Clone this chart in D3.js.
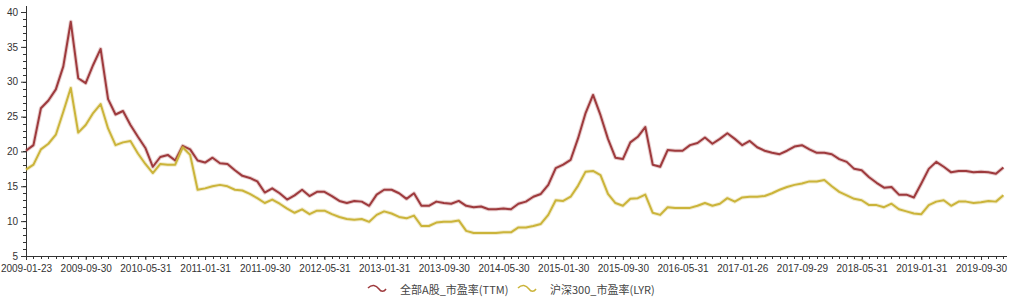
<!DOCTYPE html>
<html>
<head>
<meta charset="utf-8">
<script src="https://cdn.jsdelivr.net/npm/d3@7"></script>
<style>
  html, body { margin: 0; padding: 0; background: #fff; }
  svg { display: block; }
  text { font-family: "Liberation Sans", Arial, sans-serif; fill: #333; }
  .legend text { font-family: "Noto Sans CJK SC", "Liberation Sans", sans-serif; fill: #444; }
</style>
</head>
<body>
<svg id="chart" width="1020" height="302"></svg>
<script>
// Monthly categories (2009-01 .. 2019-12)
const categories = [
  "2009-01","2009-02","2009-03","2009-04","2009-05","2009-06","2009-07","2009-08","2009-09","2009-10","2009-11","2009-12",
  "2010-01","2010-02","2010-03","2010-04","2010-05","2010-06","2010-07","2010-08","2010-09","2010-10","2010-11","2010-12",
  "2011-01","2011-02","2011-03","2011-04","2011-05","2011-06","2011-07","2011-08","2011-09","2011-10","2011-11","2011-12",
  "2012-01","2012-02","2012-03","2012-04","2012-05","2012-06","2012-07","2012-08","2012-09","2012-10","2012-11","2012-12",
  "2013-01","2013-02","2013-03","2013-04","2013-05","2013-06","2013-07","2013-08","2013-09","2013-10","2013-11","2013-12",
  "2014-01","2014-02","2014-03","2014-04","2014-05","2014-06","2014-07","2014-08","2014-09","2014-10","2014-11","2014-12",
  "2015-01","2015-02","2015-03","2015-04","2015-05","2015-06","2015-07","2015-08","2015-09","2015-10","2015-11","2015-12",
  "2016-01","2016-02","2016-03","2016-04","2016-05","2016-06","2016-07","2016-08","2016-09","2016-10","2016-11","2016-12",
  "2017-01","2017-02","2017-03","2017-04","2017-05","2017-06","2017-07","2017-08","2017-09","2017-10","2017-11","2017-12",
  "2018-01","2018-02","2018-03","2018-04","2018-05","2018-06","2018-07","2018-08","2018-09","2018-10","2018-11","2018-12",
  "2019-01","2019-02","2019-03","2019-04","2019-05","2019-06","2019-07","2019-08","2019-09","2019-10","2019-11","2019-12"
];

// 全部A股_市盈率(TTM)
const seriesA = [
  20.1,20.9,26.2,27.3,28.9,32.2,38.6,30.5,29.8,32.4,34.7,27.5,
  25.3,25.8,23.8,22.1,20.5,17.8,19.2,19.5,18.7,20.8,20.3,18.7,
  18.4,19.1,18.3,18.2,17.3,16.5,16.2,15.7,14.1,14.7,14.0,13.1,
  13.7,14.5,13.6,14.2,14.2,13.6,12.9,12.6,12.9,12.8,12.2,13.8,
  14.5,14.5,14.0,13.2,14.0,12.2,12.2,12.8,12.6,12.5,12.9,12.2,
  12.0,12.1,11.7,11.7,11.8,11.7,12.5,12.8,13.5,13.9,15.2,17.6,
  18.1,18.8,21.9,25.5,28.1,25.2,21.8,19.1,18.9,21.3,22.1,23.5,
  18.1,17.8,20.2,20.1,20.1,20.9,21.2,22.0,21.1,21.8,22.6,21.8,
  20.9,21.5,20.6,20.1,19.8,19.6,20.1,20.7,20.9,20.3,19.8,19.8,
  19.6,18.9,18.5,17.5,17.3,16.3,15.5,14.8,14.9,13.8,13.8,13.4,
  15.4,17.5,18.5,17.8,17.0,17.2,17.2,17.0,17.1,17.0,16.8,17.7
];

// 沪深300_市盈率(LYR)
const seriesB = [
  17.4,18.1,20.3,21.1,22.4,25.7,29.1,22.7,23.8,25.5,26.8,23.3,
  20.9,21.3,21.5,19.7,18.2,16.9,18.2,18.1,18.1,20.6,19.5,14.5,
  14.7,15.0,15.2,15.0,14.5,14.4,13.9,13.3,12.6,13.1,12.5,11.8,
  11.2,11.7,11.0,11.5,11.5,11.0,10.6,10.3,10.2,10.3,9.9,10.9,
  11.4,11.1,10.6,10.4,10.8,9.3,9.3,9.8,9.9,9.9,10.1,8.6,
  8.3,8.3,8.3,8.3,8.4,8.4,9.1,9.1,9.3,9.6,10.9,13.0,
  12.9,13.5,15.1,17.1,17.2,16.6,13.9,12.6,12.2,13.2,13.3,13.8,
  11.2,10.9,12.0,11.9,11.9,11.9,12.2,12.6,12.2,12.5,13.3,12.8,
  13.4,13.5,13.5,13.6,14.0,14.5,14.9,15.2,15.4,15.7,15.7,15.9,
  15.0,14.2,13.7,13.2,13.0,12.3,12.3,12.0,12.5,11.7,11.4,11.1,
  11.0,12.3,12.8,13.0,12.2,12.8,12.8,12.6,12.7,12.9,12.8,13.7
];

const tickLabels = ["2009-01-23","2009-09-30","2010-05-31","2011-01-31","2011-09-30","2012-05-31","2013-01-31","2013-09-30","2014-05-30","2015-01-30","2015-09-30","2016-05-31","2017-01-26","2017-09-29","2018-05-31","2019-01-31","2019-09-30"];
const tickCategories = ["2009-01","2009-09","2010-05","2011-01","2011-09","2012-05","2013-01","2013-09","2014-05","2015-01","2015-09","2016-05","2017-01","2017-09","2018-05","2019-01","2019-09"];
const yTicks = [5,10,15,20,25,30,35,40];
const seriesNames = ["全部A股_市盈率(TTM)", "沪深300_市盈率(LYR)"];
const seriesColors = ["#9e3a3d", "#cbb43a"];

const svg = d3.select("#chart");
const x0 = 26, x1 = 1003.4, axisEnd = 1007;
const yTop = 12, yBottom = 256;

const x = d3.scalePoint().domain(categories).range([x0, x1]);
const y = d3.scaleLinear().domain([5, 40]).range([yBottom, yTop]);

// Y axis
const yAxisG = svg.append("g").attr("transform", `translate(${x0},0)`);
const yMinor = d3.range(5, 41, 1);
yAxisG.selectAll("line.minor").data(yMinor).enter().append("line")
  .attr("x1", -3).attr("x2", 0)
  .attr("y1", d => Math.round(y(d)) + 0.5).attr("y2", d => Math.round(y(d)) + 0.5)
  .attr("stroke", "#333").attr("stroke-width", 1);
const yAxis = d3.axisLeft(y).tickValues(yTicks).tickSize(5).tickPadding(3).tickFormat(d3.format("d"));
yAxisG.call(yAxis);
yAxisG.select(".domain").remove();
yAxisG.append("line").attr("x1", 0.5).attr("x2", 0.5).attr("y1", 6).attr("y2", yBottom + 0.5)
  .attr("stroke", "#333");
yAxisG.selectAll(".tick line").attr("stroke", "#333");
yAxisG.selectAll(".tick text").style("font-size", "10px").attr("fill", "#333");

// X axis
const xAxisG = svg.append("g").attr("transform", `translate(0,${yBottom})`);
xAxisG.selectAll("line.xt").data(categories).enter().append("line")
  .attr("x1", d => Math.round(x(d)) + 0.5).attr("x2", d => Math.round(x(d)) + 0.5)
  .attr("y1", 0).attr("y2", 3).attr("stroke", "#333");
const xAxis = d3.axisBottom(x).tickValues(tickCategories).tickSize(4).tickPadding(5)
  .tickFormat(d => tickLabels[tickCategories.indexOf(d)]);
xAxisG.call(xAxis);
xAxisG.select(".domain").remove();
xAxisG.append("line").attr("x1", x0).attr("x2", axisEnd).attr("y1", 0.5).attr("y2", 0.5).attr("stroke", "#333");
xAxisG.selectAll(".tick line").attr("stroke", "#333");
xAxisG.selectAll(".tick text").style("font-size", "10px").attr("fill", "#333");

// Lines
const line = d3.line().x((d, i) => x(categories[i])).y(d => y(d));
[seriesA, seriesB].forEach((s, k) => {
  svg.append("path").datum(s)
    .attr("d", line).attr("fill", "none")
    .attr("stroke", seriesColors[k]).attr("stroke-opacity", 0.25)
    .attr("stroke-width", 4).attr("stroke-linejoin", "round");
  svg.append("path").datum(s)
    .attr("d", line).attr("fill", "none")
    .attr("stroke", seriesColors[k]).attr("stroke-width", 2)
    .attr("stroke-linejoin", "round");
});

// Legend
const legend = svg.append("g").attr("class", "legend");
const legendX = [368, 518];
seriesNames.forEach((name, k) => {
  const g = legend.append("g").attr("transform", `translate(${legendX[k]},290)`);
  g.append("path").attr("d", "M0,-2 C4,-6 8,-5 11,-1 C13,2 16,2 18,-1")
    .attr("fill", "none").attr("stroke", seriesColors[k]).attr("stroke-width", 1.5);
  g.append("text").attr("x", 32).attr("y", 4).style("font-size", "11px").text(name);
});
</script>
</body>
</html>
